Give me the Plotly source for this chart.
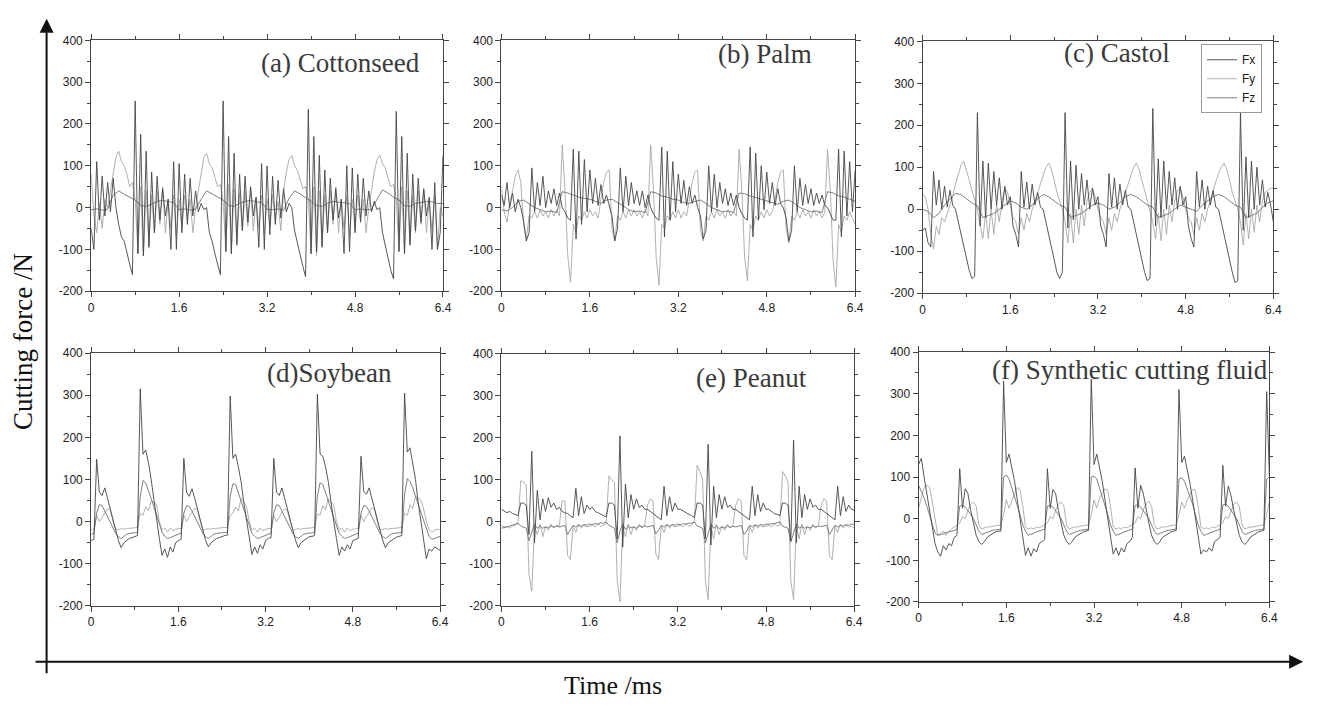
import numpy as np
import plotly.graph_objects as go

# ---------------- data (cutting force, N) ----------------
DT_FINE = 0.05     # ms, sample step of the fine series
DT_COARSE = 0.1    # ms, sample step of the smooth series

# (a) Cottonseed
a_fx = [-50, -100, 110, -30, 75, -20, 60, -10, 70, 0, -40, -70, -80, -110, -135, -160,
        255, -110, 175, -115, 135, -95, 85, -60, 75, -30, 45, -20, 20, -100, 110, -100, 105, -60, 80, -40, 70, -20, 40, -10, 10, -5, 0, -60, -80, -110, -135, -160,
        255, -105, 170, -110, 130, -90, 80, -55, 75, -35, 50, -20, 25, -95, 105, -100, 100, -65, 75, -40, 65, -25, 45, -10, 10, 0, -55, -85, -115, -140, -165,
        235, -110, 170, -105, 125, -95, 90, -60, 70, -30, 45, -25, 20, -110, 100, -105, 95, -60, 80, -35, 70, -20, 40, -10, 15, -5, 0, -60, -90, -120, -150, -170,
        230, -105, 170, -110, 130, -90, 80, -55, 70, -35, 45, -20, 25, -100, 60, -100, -60, 125]
a_fy = [80, -20, -60, 10, -50, 20, 0, 40, 90, 120, 135, 110, 100, 80, 50, 60,
        20, -110, 50, -115, 40, -90, 30, -60, 40, -40, 50, -60, 20, -50, 30, -70, 20, -50, 30, -30, 20, -60, 0, 40, 90, 120, 130, 105, 95, 75, 50, 55,
        15, -105, 55, -110, 45, -85, 35, -55, 40, -45, 45, -55, 25, -50, 30, -65, 20, -45, 30, -30, 15, -55, 40, 85, 115, 125, 100, 90, 70, 45, 50,
        20, -110, 50, -115, 40, -90, 30, -60, 40, -40, 50, -60, 20, -50, 30, -70, 20, -50, 30, -30, 20, -60, 0, 40, 85, 115, 125, 105, 95, 70, 50, 55,
        20, -105, 50, -110, 40, -85, 30, -60, 40, -40, 45, -60, 20, -55, 30, -100, 0, -20]
a_fz = [-5, -3, -6, -4, 30, 40, 32, 25, 18, 5, 3, 8, 15, 17, 15, 12, -5, -3, -6, -4,
        20, 40, 33, 25, 18, 5, 3, 10, 15, 17, 14, 12, -4, -5, -3, -6, 22, 40, 33, 25,
        15, 5, 3, 10, 15, 13, 12, 10, -5, -3, -6, -4, 20, 42, 35, 25, 18, 5, 3, 10,
        12, 15, 14, 10, 10]

# (b) Palm
b_fx = [30, 5, 60, 0, 35, -10, 20,
        0, -30, -80, -60, 95, -10, 60, 5, 75, 0, 40, 10, 45, 5, 35,
        0, -10, -25, -30, 140, -75, 135, -40, 115, -10, 90, 10, 70, 5, 55, 10, 30,
        5, -20, -80, -50, 95, -10, 75, 5, 60, 10, 40, 5, 40, 0, 30,
        0, -15, -25, -30, 145, -70, 135, -30, 110, -10, 80, 10, 65, 5, 50, 10, 30,
        0, -20, -75, -55, 100, -10, 80, 0, 60, 10, 45, 5, 35, 5, 30,
        0, -15, -25, -30, 145, -70, 130, -30, 100, -5, 85, 10, 60, 5, 45, 10,
        0, -25, -80, -55, 100, -10, 70, 5, 55, 10, 45, 5, 35, 10, 30, 5,
        0, -15, -30, -30, 140, -70, 135, -20, 110, -10, 90]
b_fy = [50, -10, -35, 10, 40, 75, 90, 60, -40, -75, -20, -25, -10, -25, -5, -20, -10, -25, -5, -20, -5, -20,
        150, 40, -115, -178, -40, -60, -20, -30, -10, -25, -5, -20, -10, -25, 20, 60, 85, 90, -50, -80, -20, -30, -10, -25, -5, -20, -5, -20, -10, -25, -5, -20,
        150, 45, -120, -185, -40, -50, -20, -30, -10, -25, -5, -25, -10, -20, 20, 60, 85, 90, -55, -80, -20, -30, -10, -25, -5, -20, -10, -25, -5, -20, -10, -20,
        140, 40, -120, -175, -40, -55, -20, -30, -10, -25, -5, -20, -10, 20, 60, 85, 90, -50, -85, -20, -30, -10, -25, -5, -20, -10, -25, -5, -20, -10, -25, -10,
        140, 40, -125, -190, -40, -60, -20, -30, -10, -25, -40]
b_fz = [-5, -8, 0, 15, 18, 10, 0, -5, -10, -8, -12, 38, 35, 30, 25, 22, 20, 15, 10, 18,
        20, 12, 5, -5, -10, -8, -12, 38, 35, 28, 25, 20, 18, 12, 10, 15, 18, 10, 0, -5,
        -10, -8, -12, 35, 33, 28, 24, 20, 15, 12, 8, 15, 18, 10, 0, -5, -10, -8, -12, 38,
        35, 28, 25, 20, 15]

# (c) Castol
c_fx = [-50, -45, -80, -90, 90, 10, 70, 0, 55, 5, 45, 10, 0, -30, -60, -90, -120, -145, -165, -160,
        230, -40, 115, -20, 110, 0, 90, 10, 75, 0, 55, 10, 30, -40, -60, -90, 90, 5, 65, 0, 60, 10, 40, 5, 0, -30, -60, -90, -120, -150, -165, -150,
        230, -45, 115, -25, 105, 0, 85, 10, 70, 0, 50, 10, 30, -40, -60, -90, 85, 5, 75, 0, 60, 10, 45, 5, 0, -30, -60, -95, -125, -150, -170, -165,
        240, -40, 120, -20, 115, 0, 90, 10, 75, 0, 55, 10, 30, -40, -70, -90, 90, 5, 70, 0, 55, 10, 45, 5, 0, -30, -65, -95, -125, -150, -175, -170,
        230, -50, 125, -20, 115, 0, 100, 10, 70, 5, 40, 10, -30]
c_fy = [35, 30, 0, -60, -95, -40, -60, -20, -30, -10, 10, 30, 60, 85, 105, 115, 95, 70, 45, 20,
        0, -40, -70, -10, -70, 0, -60, 10, -30, 20, 50, 40, 10, -20, -30, -60, -20, -50, -10, -30, 0, 20, 40, 60, 80, 100, 110, 95, 70, 40, 20, 0,
        -30, -80, -10, -80, 0, -60, 10, -40, 20, 40, 50, 30, 0, -20, -30, -60, -20, -50, -10, -30, 0, 20, 40, 65, 85, 100, 110, 95, 70, 45, 20, 0,
        -30, -70, -10, -75, 0, -60, 10, -30, 20, 45, 50, 30, 0, -20, -30, -60, -20, -50, -10, -30, 0, 20, 45, 65, 85, 100, 110, 95, 70, 40, 20, 0,
        -30, -85, -10, -70, 0, -55, 10, -30, 20, 40, 45, 50, 50]
c_fz = [0, -5, -20, -10, 10, 25, 38, 35, 25, 15, 8, -20, -15, -10, 0, 10, 20, 15, 5, 0,
        10, 25, 35, 30, 20, 10, 5, -20, -15, -10, 0, 10, 15, 10, 0, 5, 15, 30, 35, 30,
        20, 10, 5, -20, -15, -10, 0, 10, 5, 0, -5, 10, 20, 30, 35, 30, 20, 10, 5, -20,
        -15, -10, 5, 15, 20]

# (d) Soybean
d_fx = [-45, -42, 148, 70, 62, 80, 55, 30, 5, -20, -45, -62, -50, -45, -40, -38, -35, -33,
        315, 160, 170, 140, 100, 50, 0, -40, -80, -65, -85, -60, -72, -50, -45, -42,
        150, 70, 60, 78, 55, 30, 5, -20, -45, -60, -50, -45, -40, -38, -35, -33, -32,
        298, 150, 160, 130, 95, 45, 0, -40, -78, -60, -75, -55, -65, -45, -40, -38,
        150, 70, 62, 80, 55, 30, 5, -20, -45, -62, -50, -45, -40, -36, -35, -33,
        302, 160, 155, 130, 95, 45, 0, -40, -80, -60, -70, -55, -65, -45, -42, -40,
        155, 72, 65, 80, 55, 28, 5, -20, -45, -62, -50, -45, -40, -37, -35, -33,
        305, 165, 175, 140, 100, 45, 0, -40, -88, -65, -70, -60, -65, -68]
d_fy = [-20, -18, 15, 0, 10, 20, 30, 28, 0, -20, -18, -17, -18, -16, -16, -15, -15, -14,
        20, 15, 35, 25, 50, 45, 40, 0, -20, -15, -25, -15, -22, -18, -17, -16,
        15, 0, 12, 22, 32, 28, 0, -20, -18, -17, -18, -16, -16, -15, -15, -14, -14,
        15, 20, 35, 25, 55, 48, 35, 0, -20, -15, -25, -15, -22, -18, -17, -16,
        15, 0, 10, 22, 30, 28, 0, -20, -18, -17, -18, -16, -16, -15, -15, -14,
        18, 15, 38, 28, 55, 45, 40, 0, -20, -15, -25, -15, -22, -18, -17, -16,
        15, 0, 12, 22, 32, 30, 0, -20, -18, -17, -18, -16, -16, -15, -15, -14,
        20, 15, 40, 30, 60, 55, 50, 30, 0, -20, -25, -20, -18, -20]
d_fz = [-30, -28, 20, 40, 38, 25, 12, 0, -15, -28, -36, -40, -35, -30, -28, -27, -27, -26,
        60, 98, 92, 75, 55, 35, 15, -5, -25, -35, -40, -38, -35, -32, -30, -28,
        20, 38, 36, 25, 12, 0, -15, -28, -36, -40, -35, -30, -28, -27, -27, -26, -25,
        60, 90, 88, 70, 50, 30, 10, -10, -28, -35, -40, -38, -35, -32, -30, -28,
        20, 40, 38, 25, 12, 0, -15, -28, -36, -40, -35, -30, -28, -27, -27, -26,
        60, 92, 88, 70, 50, 30, 10, -10, -28, -35, -40, -38, -35, -32, -30, -28,
        20, 38, 36, 25, 12, 0, -15, -28, -36, -40, -35, -30, -28, -27, -27, -26,
        65, 102, 95, 80, 60, 40, 20, 0, -20, -35, -42, -40, -38, -35]

# (e) Peanut
e_fx = [30, 25, 22, 25, 20, 18, 15,
        45, 45, 40, -30, 168, -50, 75, 5, 55, 25, 58, 35, 45, 30, 35, 25, 22, 20, 15, 10, 80, 15, 60, 20, 40, 30, 35, 25, 22, 18, 15, 12,
        45, 45, 40, -40, 205, -60, 90, 10, 65, 30, 55, 35, 40, 30, 30, 25, 20, 15, 10, 5, 85, 15, 60, 25, 45, 30, 30, 25, 22, 18, 15, 10,
        45, 45, 40, -40, 185, -55, 85, 10, 65, 30, 60, 35, 40, 30, 30, 25, 20, 15, 10, 5, 85, 15, 65, 25, 45, 30, 30, 25, 20, 18, 15,
        45, 45, 40, -45, 195, -50, 85, 10, 65, 30, 55, 35, 40, 30, 30, 25, 20, 15, 10, 5, 85, 15, 60, 25, 40, 30, 28]
e_fy = [-8, -12, -10, -15, -10, -8, -5,
        98, 95, 88, -125, -165, -10, -30, -5, -35, -10, -20, -5, -15, -8, -10, 50, 50, -80, -90, -10, -25, -5, -15, -8, -12, -10, -8, -12, -5, -10, -8, -5,
        110, 100, 95, -140, -190, -10, -35, -5, -30, -10, -20, -5, -15, -8, 40, 55, 50, -75, -90, -10, -25, -5, -15, -8, -12, -10, -8, -12, -5, -10, -8, 0,
        135, 120, 100, -140, -185, -10, -40, -5, -30, -10, -20, -5, -15, -8, 40, 55, 50, -80, -90, -10, -25, -5, -15, -8, -12, -10, -8, -12, -5, -10, -8,
        120, 110, 95, -140, -185, -10, -40, -5, -30, -10, -20, -5, -15, -8, 40, 55, 50, -80, -90, -10, -25, -5, -15, -8, -12, -10, -15]
e_fz = [-15, -14, -12, -10, -8, -6, -3,
        -10, -12, -15, -45, -25, -5, -15, -10, -15, -12, -14, -10, -12, -10, -12, -10, -8, -30, -20, -8, -12, -8, -10, -6, -8, -5, -6, -4, -5, -2, -3, 0,
        -8, -12, -15, -50, -22, -5, -18, -10, -14, -12, -15, -10, -12, -9, -12, -10, -8, -28, -20, -8, -12, -7, -10, -6, -8, -5, -7, -4, -5, -3, -3, 0,
        -10, -12, -16, -50, -25, -5, -15, -10, -16, -12, -14, -10, -13, -10, -12, -10, -8, -30, -22, -8, -12, -8, -10, -6, -8, -5, -6, -4, -4, -2, 0,
        -10, -13, -15, -48, -25, -5, -15, -11, -15, -12, -14, -10, -12, -10, -11, -10, -8, -30, -20, -8, -12, -8, -10, -6, -8, -5, -6]

# (f) Synthetic cutting fluid
f_fx = [130, 145, 100, 60, 20, -20, -60, -80, -90, -65, -75, -60, -65, -45, -40,
        120, 25, 72, 60, 20, -10, -40, -55, -62, -55, -45, -40, -35, -32, -30, -30,
        330, 135, 155, 120, 90, 45, 0, -50, -88, -70, -90, -72, -80, -60, -55, -50,
        120, 25, 70, 60, 20, -10, -40, -55, -62, -55, -45, -40, -35, -32, -30, -28,
        335, 130, 155, 125, 90, 45, 0, -50, -85, -70, -88, -70, -80, -60, -55, -45,
        122, 25, 80, 60, 20, -10, -40, -55, -62, -55, -45, -40, -35, -32, -30, -28,
        310, 135, 150, 120, 85, 45, 0, -50, -85, -75, -80, -70, -78, -55, -50, -45,
        128, 30, 78, 55, 20, -10, -40, -55, -62, -55, -45, -40, -35, -32, -30, -28,
        305, 100]
f_fy = [25, 50, 75, 80, 75, 40, 0, -40, -35, -30, -40, -30, -25, -20, -15,
        -10, 5, 0, 20, 35, 40, 30, -15, -25, -22, -20, -20, -18, -17, -16, -15,
        10, 45, 25, 45, 60, 75, 70, 30, -20, -25, -22, -25, -20, -22, -18, -15,
        -10, 5, 0, 20, 35, 40, 30, -15, -25, -22, -20, -20, -18, -17, -16, -15,
        10, 45, 25, 50, 60, 72, 68, 30, -20, -25, -22, -25, -20, -22, -18, -15,
        -10, 5, 0, 22, 35, 42, 30, -15, -25, -22, -20, -20, -18, -17, -16, -15,
        10, 40, 25, 45, 58, 70, 68, 30, -20, -25, -22, -25, -20, -22, -18, -15,
        -10, 5, 0, 20, 35, 40, 30, -15, -25, -22, -20, -20, -18, -17, -16, -15,
        10, 40]
f_fz = [80, 65, 50, 30, 10, -15, -35, -40, -38, -36, -34, -32, -30, -28, -26,
        30, 32, 28, 20, 10, 0, -15, -30, -38, -35, -32, -30, -28, -27, -26, -25,
        100, 105, 95, 75, 55, 35, 10, -15, -30, -40, -38, -35, -32, -30, -28, -25,
        30, 32, 28, 20, 10, 0, -15, -30, -38, -35, -32, -30, -28, -27, -26, -25,
        100, 102, 95, 75, 55, 35, 10, -15, -30, -40, -38, -35, -32, -30, -28, -25,
        32, 33, 28, 20, 10, 0, -15, -30, -38, -35, -32, -30, -28, -27, -26, -25,
        95, 98, 90, 72, 55, 35, 10, -15, -30, -40, -38, -35, -32, -30, -28, -25,
        33, 35, 30, 20, 10, 0, -15, -30, -38, -35, -32, -30, -28, -27, -26, -25,
        95, 100]

panel_titles = ["(a) Cottonseed", "(b) Palm", "(c) Castol",
                "(d)Soybean", "(e) Peanut", "(f) Synthetic cutting fluid"]
series_names = ["Fx", "Fy", "Fz"]
x_tick_vals = [0, 1.6, 3.2, 4.8, 6.4]
x_tick_text = ["0", "1.6", "3.2", "4.8", "6.4"]
y_tick_vals = [-200, -100, 0, 100, 200, 300, 400]
y_tick_text = ["-200", "-100", "0", "100", "200", "300", "400"]

panels = [
    (a_fx, DT_FINE, a_fy, DT_FINE, a_fz, DT_COARSE),
    (b_fx, DT_FINE, b_fy, DT_FINE, b_fz, DT_COARSE),
    (c_fx, DT_FINE, c_fy, DT_FINE, c_fz, DT_COARSE),
    (d_fx, DT_FINE, d_fy, DT_FINE, d_fz, DT_FINE),
    (e_fx, DT_FINE, e_fy, DT_FINE, e_fz, DT_FINE),
    (f_fx, DT_FINE, f_fy, DT_FINE, f_fz, DT_FINE),
]

# ---------------- layout / style ----------------
W, H = 1323, 707
COLORS = {"Fx": "#454545", "Fy": "#a8a8a8", "Fz": "#727272"}
LW = 0.9
SERIF = "Liberation Serif, Times New Roman, serif"

# plot boxes in pixels: (left, right, top, bottom)
boxes = [(89, 444, 34, 290), (503, 860, 34, 290), (928, 1282, 35, 292),
         (89, 441, 353, 611), (503, 859, 354, 611), (924, 1278, 352, 607)]
title_pos = [(423, 57), (818, 48), (1180, 47), (395, 373), (813, 378), (1279, 370)]

def px(x):
    return x / W

def py(y):
    return 1 - y / H

fig = go.Figure()
layout = dict(width=W, height=H, margin=dict(l=0, r=0, t=0, b=0),
              paper_bgcolor="white", plot_bgcolor="white", showlegend=True)

tick_font = dict(family="Liberation Sans, Arial, sans-serif", size=12, color="#222")

for k, (panel, box) in enumerate(zip(panels, boxes), start=1):
    fx, dtx, fy, dty, fz, dtz = panel
    xs = "x" if k == 1 else f"x{k}"
    ys = "y" if k == 1 else f"y{k}"
    order = [("Fy", fy, dty), ("Fz", fz, dtz), ("Fx", fx, dtx)]
    for name, vals, dt in order:
        t = np.round(np.arange(len(vals)) * dt, 3)
        fig.add_trace(go.Scatter(
            x=t, y=vals, mode="lines", name=name, xaxis=xs, yaxis=ys,
            line=dict(color=COLORS[name], width=LW),
            showlegend=(k == 3), legendrank=series_names.index(name) + 1,
            hoverinfo="skip"))
    l, r, tp, bt = box
    common = dict(showline=True, linecolor="#444", linewidth=1, mirror="allticks",
                  ticks="outside", ticklen=5, tickcolor="#444", tickwidth=1,
                  showgrid=False, zeroline=False, tickfont=tick_font)
    layout["xaxis" if k == 1 else f"xaxis{k}"] = dict(
        domain=[px(l), px(r)], range=[0, 6.4], anchor=ys,
        tickmode="array", tickvals=x_tick_vals, ticktext=x_tick_text,
        minor=dict(tickvals=[0.8, 2.4, 4.0, 5.6], ticks="outside", ticklen=3,
                   tickcolor="#444", showgrid=False),
        **common)
    layout["yaxis" if k == 1 else f"yaxis{k}"] = dict(
        domain=[py(bt), py(tp)], range=[-200, 400], anchor=xs,
        tickmode="array", tickvals=y_tick_vals, ticktext=y_tick_text,
        minor=dict(tickvals=[-150, -50, 50, 150, 250, 350], ticks="outside", ticklen=3,
                   tickcolor="#444", showgrid=False),
        **common)

annotations = []
for (tx, ty), txt in zip(title_pos, panel_titles):
    annotations.append(dict(x=px(tx), y=py(ty), xref="paper", yref="paper",
                            text=txt, showarrow=False, xanchor="right", yanchor="middle",
                            font=dict(family=SERIF, size=27, color="#3a3a3a")))
# big frame axes with arrow heads (tail offsets in pixels)
annotations.append(dict(x=px(44), y=py(12), ax=0, ay=668 - 12,
                        xref="paper", yref="paper",
                        text="", showarrow=True, arrowhead=2, arrowsize=1.4,
                        arrowwidth=2, arrowcolor="#111"))
annotations.append(dict(x=px(1312), y=py(668), ax=-(1312 - 43), ay=0,
                        xref="paper", yref="paper",
                        text="", showarrow=True, arrowhead=2, arrowsize=1.4,
                        arrowwidth=2, arrowcolor="#111"))
annotations.append(dict(x=px(20), y=py(341), xref="paper", yref="paper",
                        xanchor="center", yanchor="middle",
                        text="Cutting force /N", showarrow=False, textangle=-90,
                        font=dict(family=SERIF, size=27, color="#111")))
annotations.append(dict(x=px(616), y=py(692), xref="paper", yref="paper",
                        xanchor="center", yanchor="middle",
                        text="Time /ms", showarrow=False,
                        font=dict(family=SERIF, size=26, color="#111")))
layout["annotations"] = annotations
layout["legend"] = dict(x=px(1209), y=py(38), xanchor="left", yanchor="top",
                        bgcolor="white", bordercolor="#999", borderwidth=1,
                        font=dict(family="Liberation Sans, Arial, sans-serif", size=12,
                                  color="#222"),
                        itemwidth=30, tracegroupgap=0, traceorder="normal")

fig.update_layout(**layout)
fig.write_html("out.html",
               config={"displayModeBar": False},
               post_script="document.body.style.margin='0px';"
                           "document.body.style.overflow='hidden';")
